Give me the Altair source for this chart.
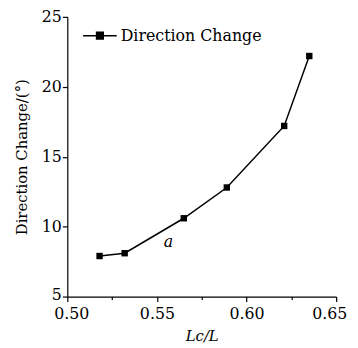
import altair as alt
import pandas as pd

# data
lc_ratio = [0.518, 0.532, 0.565, 0.589, 0.621, 0.635]
direction_change = [7.9, 8.1, 10.6, 12.8, 17.2, 22.2]
series_name = ["Direction Change"] * len(lc_ratio)

x_ticks = [0.5, 0.525, 0.55, 0.575, 0.6, 0.625, 0.65]
y_ticks = [5, 7.5, 10, 12.5, 15, 17.5, 20, 22.5, 25]

note_text = ["a"]
note_x = [0.5565]
note_y = [8.9]

FONT = "DejaVu Serif"

df = pd.DataFrame({"x": lc_ratio, "y": direction_change, "series": series_name})
notes = pd.DataFrame({"x": note_x, "y": note_y, "t": note_text})

x_scale = alt.Scale(domain=[0.5, 0.65], nice=False, zero=False)
y_scale = alt.Scale(domain=[5, 25], nice=False, zero=False)

x_axis = alt.Axis(
    values=x_ticks,
    labelExpr="round(datum.value*1000) % 50 == 0 ? format(datum.value, '.2f') : ''",
    tickSize={"condition": {"test": "round(datum.value*1000) % 50 == 0", "value": 5}, "value": 3},
    labelOffset={
        "condition": [
            {"test": "datum.value >= 0.649", "value": -7},
            {"test": "datum.value <= 0.501", "value": 4},
        ],
        "value": 0,
    },
    grid=False,
    title="Lc/L",
    titleFontStyle="italic",
    titleFontWeight="normal",
    titleFont=FONT,
    titleFontSize=15,
    titlePadding=7,
    labelFont=FONT,
    labelFontSize=16,
    labelPadding=4,
    labelFlush=False,
    labelOverlap=False,
    domainColor="black",
    tickColor="black",
    labelColor="black",
    titleColor="black",
    domainWidth=1.2,
    tickWidth=1.2,
)

y_axis = alt.Axis(
    values=y_ticks,
    labelExpr="datum.value % 5 == 0 ? format(datum.value, 'd') : ''",
    tickSize={"condition": {"test": "datum.value % 5 == 0", "value": 5}, "value": 3},
    labelOffset={"condition": {"test": "datum.value <= 5.01", "value": -2}, "value": 0},
    grid=False,
    title="Direction Change/(°)",
    titleFontWeight="normal",
    titleFont=FONT,
    titleFontSize=15,
    titlePadding=12,
    labelFont=FONT,
    labelFontSize=16,
    labelPadding=1,
    labelFlush=False,
    labelOverlap=False,
    domainColor="black",
    tickColor="black",
    labelColor="black",
    titleColor="black",
    domainWidth=1.2,
    tickWidth=1.2,
)

legend = alt.Legend(
    title=None,
    orient="none",
    legendX=15,
    legendY=1,
    symbolType="M-1,0H1M-0.2,-0.2H0.2V0.2H-0.2Z",
    symbolSize=1156,
    symbolStrokeWidth=1.5,
    symbolStrokeColor="black",
    symbolFillColor="black",
    labelFont=FONT,
    labelFontSize=16,
    labelColor="black",
    labelOffset=3,
    padding=0,
)

line = alt.Chart(df).mark_line(
    color="black",
    strokeWidth=1.5,
    point=alt.OverlayMarkDef(shape="square", size=42, filled=True, color="black", strokeWidth=0),
).encode(
    x=alt.X("x:Q", scale=x_scale, axis=x_axis),
    y=alt.Y("y:Q", scale=y_scale, axis=y_axis),
    color=alt.Color("series:N", scale=alt.Scale(range=["black"]), legend=legend),
)

note = alt.Chart(notes).mark_text(
    font=FONT, fontSize=16, fontStyle="italic", color="black"
).encode(
    x=alt.X("x:Q", scale=x_scale),
    y=alt.Y("y:Q", scale=y_scale),
    text="t:N",
)

chart = alt.layer(line, note).properties(
    width=272,
    height=283,
    autosize=alt.AutoSizeParams(type="none"),
    padding={"left": 60, "top": 7, "right": 14, "bottom": 45},
    background="white",
).configure_view(stroke=None)

chart.save("out.html", embed_options={"renderer": "svg", "actions": False})
